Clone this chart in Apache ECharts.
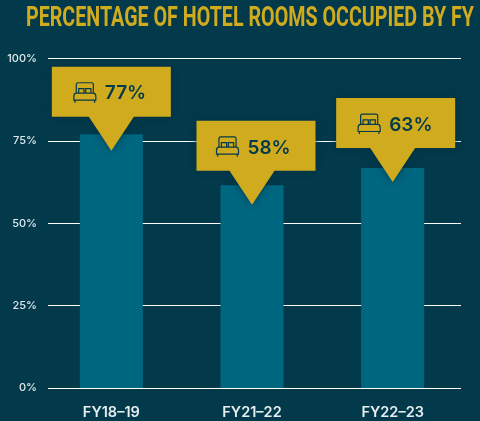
<!DOCTYPE html>
<html>
<head>
<meta charset="utf-8">
<style>
  html, body { margin: 0; padding: 0; background: #023a4b; }
  #chart { width: 480px; height: 421px; }
</style>
<script src="https://cdn.jsdelivr.net/npm/echarts@6/dist/echarts.min.js"></script>
</head>
<body>
<div id="chart"></div>
<script>
const titleText = 'PERCENTAGE OF HOTEL ROOMS OCCUPIED BY FY';
const categories = ['FY18–19', 'FY21–22', 'FY22–23'];
const barValues = [77, 61.5, 66.8];
const calloutLabels = ['77%', '58%', '63%'];
const calloutTips = [72, 55.6, 62.5];
const yTicks = [0, 25, 50, 75, 100];

const GOLD = '#d1ab1e';
const DARK = '#023a4b';
const TEAL = '#006781';

// callout boxes don't sit centred over their tip on the last two bars
const boxShift = [0, 4, 3];
const textShift = [0, -2, 0];

// bed icon
const bedPath = 'M3 9V2.5Q3 1 4.5 1H15.5Q17 1 17 2.5V9 M5 9V5.5H9.3V9 M10.7 9V5.5H15V9 M1 11.5Q1 9 3 9H17Q19 9 19 11.5V14.5H1Z M2 14.5V16.5 M18 14.5V16.5';

const chart = echarts.init(document.getElementById('chart'), null, { renderer: 'canvas' });

function renderCallout(params, api) {
  const i = params.dataIndex;
  const tip = api.coord([api.value(0), api.value(1)]);
  const tx = tip[0];
  const ty = tip[1];
  const bx = tx + boxShift[i];
  const top = ty - 84;
  return {
    type: 'group',
    children: [
      {
        type: 'polygon',
        shape: {
          points: [
            [bx - 59.5, top], [bx + 59.5, top], [bx + 59.5, top + 50],
            [tx + 22.5, top + 50], [tx, ty], [tx - 22.5, top + 50], [bx - 59.5, top + 50]
          ]
        },
        style: { fill: GOLD, shadowBlur: 9, shadowColor: 'rgba(1,45,62,0.75)' }
      },
      {
        type: 'path',
        shape: { pathData: bedPath, x: bx - 37.5 + textShift[i], y: top + 16, width: 22, height: 20, layout: 'cover' },
        style: { fill: null, stroke: DARK, lineWidth: 1.2 }
      },
      {
        type: 'text',
        x: bx - 6.5 + textShift[i],
        y: top + 27,
        style: {
          text: calloutLabels[i],
          fill: DARK,
          fontFamily: 'Inter',
          fontWeight: 600,
          fontSize: 19,
          verticalAlign: 'middle'
        }
      }
    ]
  };
}

chart.setOption({
  backgroundColor: DARK,
  animation: false,
  graphic: [
    {
      type: 'text',
      x: 26,
      y: 5,
      scaleX: 0.703,
      style: {
        text: titleText,
        fill: GOLD,
        fontFamily: 'Roboto',
        fontWeight: 'bold',
        fontSize: 28,
        verticalAlign: 'top'
      }
    }
  ],
  grid: [
    { left: 48, right: 19, top: 58.5, bottom: 33 },
    { left: 41, right: 17, top: 58.5, bottom: 33 }
  ],
  xAxis: [
    { type: 'category', gridIndex: 0, data: categories, show: false },
    {
      type: 'category',
      gridIndex: 1,
      data: categories,
      axisLine: { show: false },
      axisTick: { show: false },
      axisLabel: { color: '#e6eef0', fontFamily: 'Inter', fontWeight: 600, fontSize: 14.5, margin: 17 }
    }
  ],
  yAxis: [
    {
      type: 'value',
      gridIndex: 0,
      min: 0,
      max: 100,
      interval: 25,
      axisLine: { show: false },
      axisTick: { show: false },
      axisLabel: {
        color: '#dfe9ec',
        fontFamily: 'Inter',
        fontWeight: 500,
        fontSize: 11,
        margin: 11,
        formatter: v => (yTicks.includes(v) ? v + '%' : '')
      },
      splitLine: { lineStyle: { color: '#ffffff', width: 1 } }
    },
    { type: 'value', gridIndex: 1, min: 0, max: 100, show: false, splitLine: { show: false } }
  ],
  series: [
    {
      type: 'bar',
      xAxisIndex: 1,
      yAxisIndex: 1,
      data: barValues,
      barWidth: 63,
      itemStyle: { color: TEAL },
      z: 3
    },
    {
      type: 'custom',
      xAxisIndex: 1,
      yAxisIndex: 1,
      data: categories.map((c, i) => [i, calloutTips[i]]),
      renderItem: renderCallout,
      z: 5
    }
  ]
});
</script>
</body>
</html>
